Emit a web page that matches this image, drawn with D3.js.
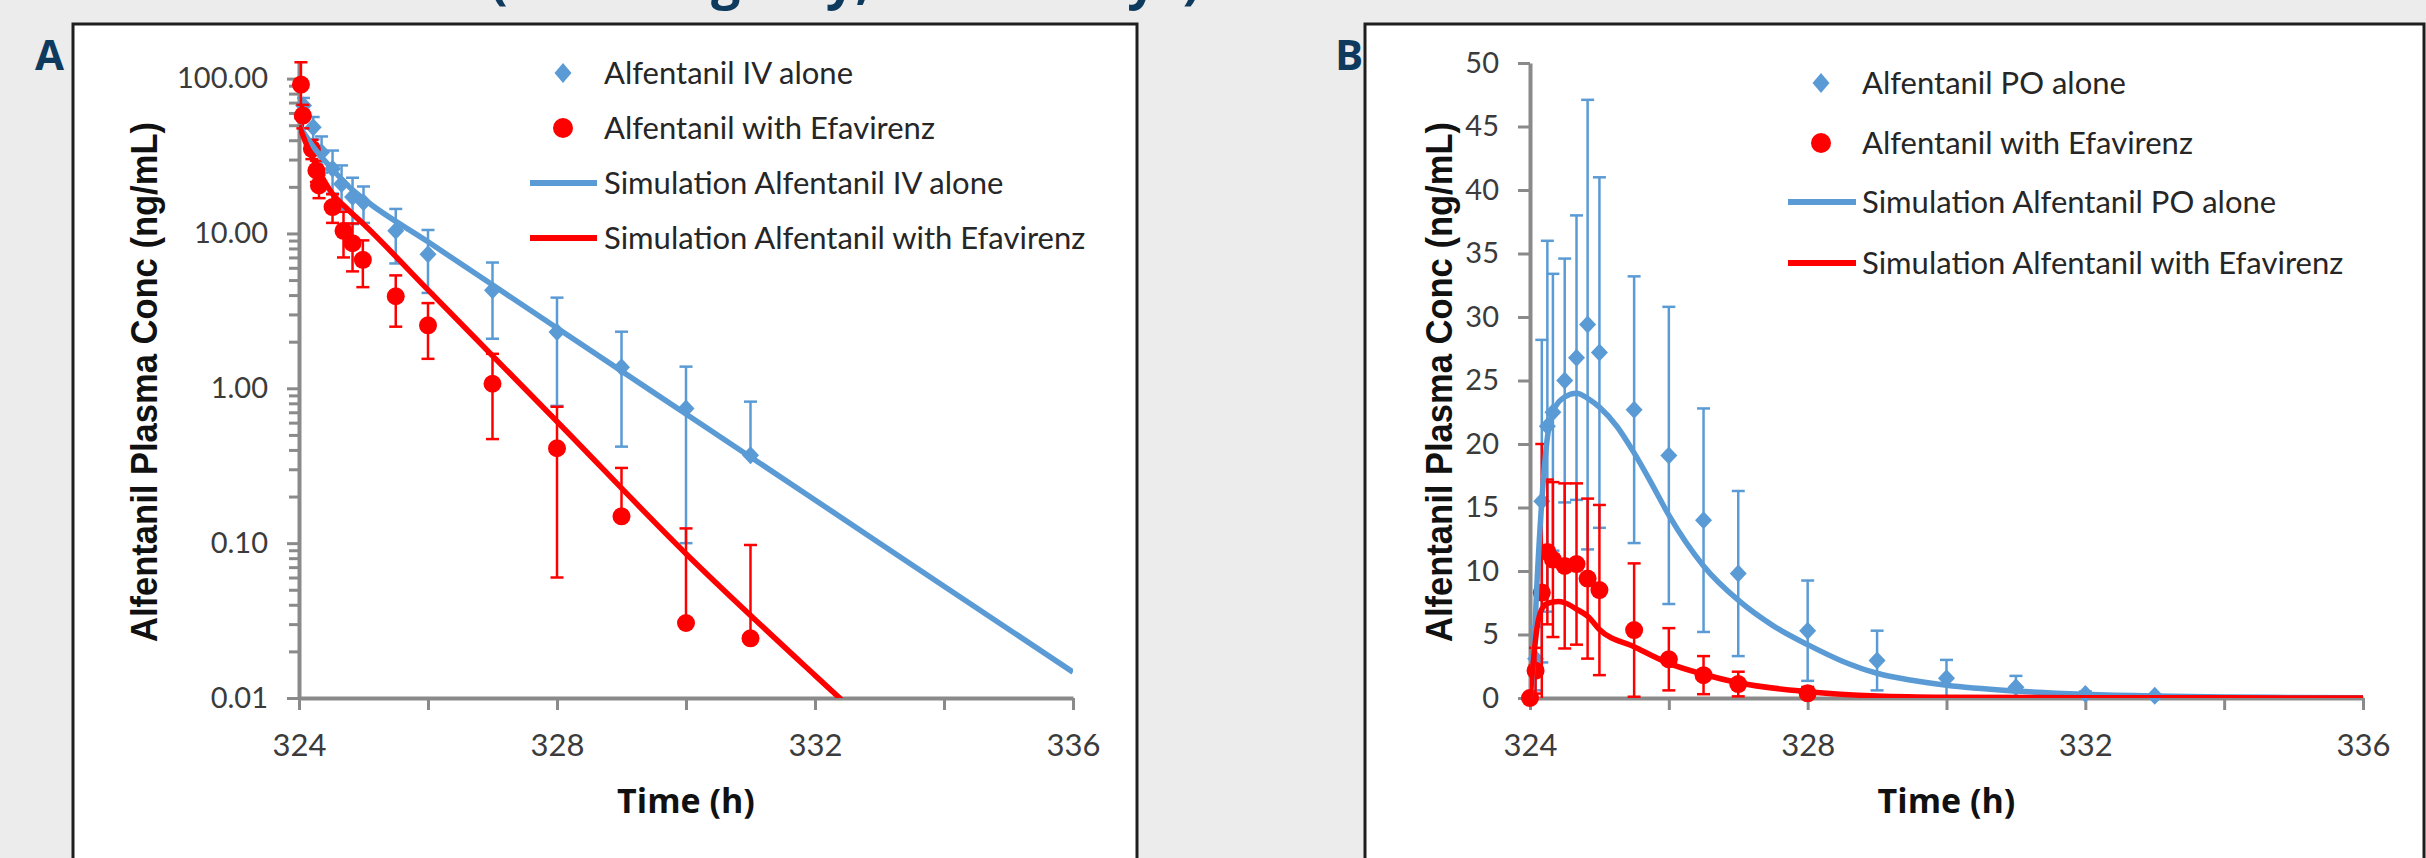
<!DOCTYPE html>
<html>
<head>
<meta charset="utf-8">
<script src="https://cdn.jsdelivr.net/npm/d3@7"></script>
<style>
  html, body { margin: 0; padding: 0; background: #ececec; }
  svg { display: block; }
  .legend-label { font-family: Lato, sans-serif; font-size: 31px; fill: #262626; }
  .axis-title { font-family: "Liberation Sans", Arial, sans-serif; font-weight: bold; font-size: 36px; fill: #111; }
  .x-title { font-family: "Open Sans", sans-serif; font-weight: bold; font-size: 34px; fill: #111; }
  .panel-letter { font-family: "Open Sans", sans-serif; font-weight: bold; font-size: 42px; fill: #0e3a5e; }
</style>
</head>
<body>
<svg id="figure" width="2426" height="858"></svg>
<script>
// ---- shared axis values ----
const timeTicks = [324, 326, 328, 330, 332, 334, 336];
const timeTickLabels = ['324', '', '328', '', '332', '', '336'];
const logTicks = [0.01, 0.1, 1, 10, 100];
const logTickLabels = ['0.01', '0.10', '1.00', '10.00', '100.00'];
const linTicks = [0, 5, 10, 15, 20, 25, 30, 35, 40, 45, 50];
const linTickLabels = ['0', '5', '10', '15', '20', '25', '30', '35', '40', '45', '50'];

// ---- panel A : IV alfentanil (log scale) ----
const ivObsTime = [324.07, 324.22, 324.35, 324.52, 324.66, 324.83, 325, 325.5, 326, 327, 328, 329, 330, 331];
const ivObsMean = [67, 48.5, 33.5, 26.2, 20.9, 17.2, 15.9, 10.4, 7.33, 4.29, 2.31, 1.37, 0.74, 0.37];
const ivObsSd = [8, 8, 8.8, 8.1, 6.6, 5.7, 4.2, 4.0, 3.2, 2.2, 1.54, 0.95, 0.64, 0.45];

const ivEfvTime = [324.03, 324.06, 324.2, 324.27, 324.31, 324.52, 324.69, 324.83, 324.99, 325.5, 326, 327, 328, 329, 330, 331];
const ivEfvMean = [91.5, 57.7, 35.2, 25.5, 20.4, 14.8, 10.4, 8.65, 6.76, 3.93, 2.55, 1.07, 0.41, 0.149, 0.0305, 0.0243];
const ivEfvSd = [36, 10, 5, 4, 3.5, 3.1, 3.4, 2.96, 2.26, 1.43, 1.0, 0.6, 0.35, 0.157, 0.094, 0.073];

const ivSimTime = [324, 324.1, 324.25, 324.5, 324.75, 325, 326, 328, 330, 332, 334, 336];
const ivSimAlone = [50, 43, 35, 26.5, 20.5, 16.75, 8.83, 2.45, 0.682, 0.19, 0.0527, 0.0147];
const ivSimEfvTime = [324, 324.1, 324.25, 324.5, 324.75, 325, 326, 328, 330, 332, 332.5];
const ivSimEfv = [50, 39, 28.3, 18.5, 14.4, 11.5, 4.32, 0.61, 0.0855, 0.014, 0.009];

// ---- panel B : oral alfentanil (linear scale) ----
const poObsTime = [324.08, 324.17, 324.25, 324.33, 324.5, 324.67, 324.83, 325, 325.5, 326, 326.5, 327, 328, 329, 330, 331, 332, 333];
const poObsMean = [3.1, 15.5, 21.4, 22.5, 25.0, 26.8, 29.4, 27.2, 22.7, 19.1, 14.0, 9.8, 5.3, 2.95, 1.55, 0.84, 0.31, 0.18];
const poObsSd = [2.5, 12.7, 14.6, 10.9, 9.6, 11.2, 17.7, 13.8, 10.5, 11.7, 8.8, 6.5, 3.95, 2.35, 1.45, 0.9, 0.2, 0.1];

const poEfvTime = [324, 324.08, 324.17, 324.25, 324.33, 324.5, 324.67, 324.83, 325, 325.5, 326, 326.5, 327, 328];
const poEfvMean = [0, 2.15, 8.3, 11.5, 10.9, 10.4, 10.55, 9.4, 8.5, 5.35, 3.05, 1.8, 1.1, 0.37];
const poEfvSd = [0, 1.8, 11.7, 5.7, 6.1, 6.5, 6.35, 6.3, 6.7, 5.25, 2.45, 1.5, 0.97, 0.5];

const poSimTime = [324, 324.05, 324.1, 324.17, 324.25, 324.33, 324.5, 324.67, 324.83, 325, 325.25, 325.5, 325.75, 326, 326.5, 327, 327.5, 328, 328.5, 329, 329.5, 330, 331, 332, 333, 334, 335, 336];
const poSimAlone = [0, 3, 9, 15.5, 20.5, 22.5, 23.7, 24.0, 23.6, 22.9, 21.4, 19.3, 16.9, 14.4, 10.4, 7.7, 5.7, 4.2, 2.9, 1.95, 1.4, 1.0, 0.55, 0.3, 0.16, 0.08, 0.04, 0.02];
const poSimEfvTime = [324, 324.05, 324.1, 324.17, 324.25, 324.41, 324.5, 324.67, 324.84, 325, 325.5, 326, 326.5, 327, 328, 329, 330, 332, 334, 336];
const poSimEfv = [0, 3, 5.5, 7.0, 7.45, 7.6, 7.5, 7.0, 6.4, 5.4, 4.04, 2.73, 1.87, 1.2, 0.5, 0.16, 0.06, 0.02, 0.01, 0.005];

const headerPieces = ['(600', 'mg', '/day,', '14 days)'];

const BLUE = '#5b9bd5';
const RED = '#ff0000';
const AXIS_GREY = '#8a8a8a';

class PkPanel {

  constructor(_config, _series) {
    this.config = _config;
    this.series = _series;
    this.initVis();
  }

  initVis() {
    let vis = this;
    const c = vis.config;

    vis.g = d3.select(c.parentElement).append('g');

    // white frame
    vis.g.append('rect')
        .attr('x', c.box.x)
        .attr('y', c.box.y)
        .attr('width', c.box.w)
        .attr('height', c.box.h)
        .attr('fill', '#fff')
        .attr('stroke', '#1e1e1e')
        .attr('stroke-width', 3);

    vis.g.append('text')
        .attr('class', 'panel-letter')
        .attr('x', c.letterX)
        .attr('y', 70)
        .text(c.letter);

    vis.xScale = d3.scaleLinear()
        .domain([324, 336])
        .range([c.plot.left, c.plot.right]);

    vis.yScale = (c.yType === 'log' ? d3.scaleLog() : d3.scaleLinear())
        .domain(c.yDomain)
        .range([c.plot.bottom, c.plot.top]);

    vis.g.append('defs').append('clipPath')
        .attr('id', 'clip-' + c.letter)
      .append('rect')
        .attr('x', c.plot.left)
        .attr('y', c.plot.top)
        .attr('width', c.plot.right - c.plot.left)
        .attr('height', c.plot.bottom - c.plot.top);

    vis.renderAxes();
    vis.renderVis();
    vis.renderLegend();
  }

  renderAxes() {
    let vis = this;
    const c = vis.config;

    if (c.minorTicks) {
      const minor = vis.g.append('g')
          .attr('transform', `translate(${c.plot.left},0)`)
          .call(d3.axisLeft(vis.yScale).tickValues(c.minorTicks).tickSize(10).tickFormat(''));
      minor.select('.domain').remove();
      minor.selectAll('.tick line').attr('stroke', AXIS_GREY).attr('stroke-width', 3);
    }

    const yAxisG = vis.g.append('g')
        .attr('transform', `translate(${c.plot.left},0)`)
        .call(d3.axisLeft(vis.yScale)
          .tickValues(c.yTicks)
          .tickFormat((d, i) => c.yTickLabels[i])
          .tickSize(12)
          .tickPadding(19)
          .tickSizeOuter(0));

    const xAxisG = vis.g.append('g')
        .attr('transform', `translate(0,${c.plot.bottom})`)
        .call(d3.axisBottom(vis.xScale)
          .tickValues(timeTicks)
          .tickFormat((d, i) => timeTickLabels[i])
          .tickSize(12)
          .tickPadding(24)
          .tickSizeOuter(0));

    [yAxisG, xAxisG].forEach(a => {
      a.select('.domain').attr('stroke', AXIS_GREY).attr('stroke-width', 4);
      a.selectAll('.tick line').attr('stroke', AXIS_GREY).attr('stroke-width', 3);
      a.selectAll('.tick text')
          .attr('fill', '#3b3b3b')
          .attr('font-family', 'Lato, sans-serif');
    });
    yAxisG.selectAll('.tick text').attr('font-size', 29);
    xAxisG.selectAll('.tick text').attr('font-size', 31);

    vis.g.append('text')
        .attr('class', 'axis-title')
        .attr('text-anchor', 'middle')
        .attr('transform', `translate(${c.yTitleX},382) rotate(-90)`)
        .attr('textLength', 520)
        .attr('lengthAdjust', 'spacingAndGlyphs')
        .text('Alfentanil Plasma Conc (ng/mL)');

    vis.g.append('text')
        .attr('class', 'x-title')
        .attr('text-anchor', 'middle')
        .attr('x', (c.plot.left + c.plot.right) / 2)
        .attr('y', 813)
        .text('Time (h)');
  }

  renderVis() {
    let vis = this;
    const c = vis.config;
    const yMin = c.yDomain[0];

    vis.series.forEach(s => {
      if (s.kind === 'obs') {
        const rows = s.time.map((t, i) => ({t: t, m: s.mean[i], sd: s.sd[i]}));

        // error bars (mean +/- SD), lower arm dropped when it goes below zero on log axis
        const bars = vis.g.append('g')
            .attr('stroke', s.color)
            .attr('stroke-width', 2.5)
            .attr('fill', 'none');
        rows.filter(d => d.sd > 0).forEach(d => {
          const x = vis.xScale(d.t);
          const top = vis.yScale(d.m + d.sd);
          let low = d.m - d.sd;
          let lowY = null;
          if (c.yType === 'log') {
            if (low > 0) lowY = vis.yScale(Math.max(low, yMin));
          } else {
            lowY = vis.yScale(Math.max(low, yMin));
          }
          bars.append('line')
              .attr('x1', x).attr('x2', x)
              .attr('y1', top)
              .attr('y2', lowY === null ? vis.yScale(d.m) : lowY);
          bars.append('line')
              .attr('x1', x - 6.5).attr('x2', x + 6.5)
              .attr('y1', top).attr('y2', top);
          if (lowY !== null && low > yMin) {
            bars.append('line')
                .attr('x1', x - 6.5).attr('x2', x + 6.5)
                .attr('y1', lowY).attr('y2', lowY);
          }
        });

        vis.g.append('g').selectAll('path')
          .data(rows)
          .join('path')
            .attr('transform', d => `translate(${vis.xScale(d.t)},${vis.yScale(d.m)})`)
            .attr('d', s.shape === 'diamond' ? vis.diamondPath(8.5, 9) : vis.circlePath(9))
            .attr('fill', s.color);
      } else {
        const pts = s.time.map((t, i) => [t, s.value[i]]);
        const line = d3.line()
            .x(d => vis.xScale(d[0]))
            .y(d => vis.yScale(d[1]))
            .curve(d3.curveMonotoneX);
        vis.g.append('path')
            .datum(pts)
            .attr('clip-path', `url(#clip-${c.letter})`)
            .attr('d', line)
            .attr('fill', 'none')
            .attr('stroke', s.color)
            .attr('stroke-width', 5.5)
            .attr('stroke-linejoin', 'round');
      }
    });
  }

  renderLegend() {
    let vis = this;
    const L = vis.config.legend;

    vis.series.forEach((s, i) => {
      const y = L.rowsY[i];
      if (s.kind === 'obs') {
        vis.g.append('path')
            .attr('transform', `translate(${L.markerX},${y})`)
            .attr('d', s.shape === 'diamond' ? vis.diamondPath(8.5, 10) : vis.circlePath(10))
            .attr('fill', s.color);
      } else {
        vis.g.append('line')
            .attr('x1', L.lineX0).attr('x2', L.lineX1)
            .attr('y1', y).attr('y2', y)
            .attr('stroke', s.color)
            .attr('stroke-width', 6);
      }
      vis.g.append('text')
          .attr('class', 'legend-label')
          .attr('x', L.textX)
          .attr('y', y + 11)
          .text(s.label);
    });
  }

  diamondPath(hw, hh) {
    return `M0,${-hh}L${hw},0L0,${hh}L${-hw},0Z`;
  }

  circlePath(r) {
    return `M${-r},0A${r},${r} 0 1,0 ${r},0A${r},${r} 0 1,0 ${-r},0Z`;
  }
}

const svg = d3.select('#figure');
svg.append('rect').attr('width', 2426).attr('height', 858).attr('fill', '#ececec');

// slide heading, mostly above the top edge as in the source image
const header = svg.append('text')
    .attr('y', -2)
    .attr('font-family', '"Open Sans", sans-serif')
    .attr('font-weight', 'bold')
    .attr('font-size', 52)
    .attr('fill', '#0e3a5e');
[490, 660, 740, 990].forEach((x, i) => {
  header.append('tspan').attr('x', x).text(headerPieces[i]);
});

const minorLog = [];
[0.01, 0.1, 1, 10].forEach(dec => d3.range(2, 10).forEach(k => minorLog.push(dec * k)));

new PkPanel({
  parentElement: '#figure',
  letter: 'A',
  letterX: 35,
  box: {x: 73, y: 24, w: 1064, h: 900},
  plot: {left: 299, right: 1073, top: 62, bottom: 698},
  yType: 'log',
  yDomain: [0.01, 128],
  yTicks: logTicks,
  yTickLabels: logTickLabels,
  minorTicks: minorLog,
  yTitleX: 157,
  legend: {markerX: 563, textX: 604, lineX0: 530, lineX1: 597, rowsY: [73, 128, 183, 238]}
}, [
  {kind: 'obs', shape: 'diamond', color: BLUE, time: ivObsTime, mean: ivObsMean, sd: ivObsSd, label: 'Alfentanil IV alone'},
  {kind: 'obs', shape: 'circle', color: RED, time: ivEfvTime, mean: ivEfvMean, sd: ivEfvSd, label: 'Alfentanil with Efavirenz'},
  {kind: 'sim', color: BLUE, time: ivSimTime, value: ivSimAlone, label: 'Simulation Alfentanil IV alone'},
  {kind: 'sim', color: RED, time: ivSimEfvTime, value: ivSimEfv, label: 'Simulation Alfentanil with Efavirenz'}
]);

new PkPanel({
  parentElement: '#figure',
  letter: 'B',
  letterX: 1335,
  box: {x: 1365, y: 24, w: 1059, h: 900},
  plot: {left: 1530, right: 2363, top: 63, bottom: 698},
  yType: 'linear',
  yDomain: [0, 50],
  yTicks: linTicks,
  yTickLabels: linTickLabels,
  minorTicks: null,
  yTitleX: 1452,
  legend: {markerX: 1821, textX: 1862, lineX0: 1788, lineX1: 1856, rowsY: [83, 143, 202, 263]}
}, [
  {kind: 'obs', shape: 'diamond', color: BLUE, time: poObsTime, mean: poObsMean, sd: poObsSd, label: 'Alfentanil PO alone'},
  {kind: 'obs', shape: 'circle', color: RED, time: poEfvTime, mean: poEfvMean, sd: poEfvSd, label: 'Alfentanil with Efavirenz'},
  {kind: 'sim', color: BLUE, time: poSimTime, value: poSimAlone, label: 'Simulation Alfentanil PO alone'},
  {kind: 'sim', color: RED, time: poSimEfvTime, value: poSimEfv, label: 'Simulation Alfentanil with Efavirenz'}
]);
</script>
</body>
</html>
